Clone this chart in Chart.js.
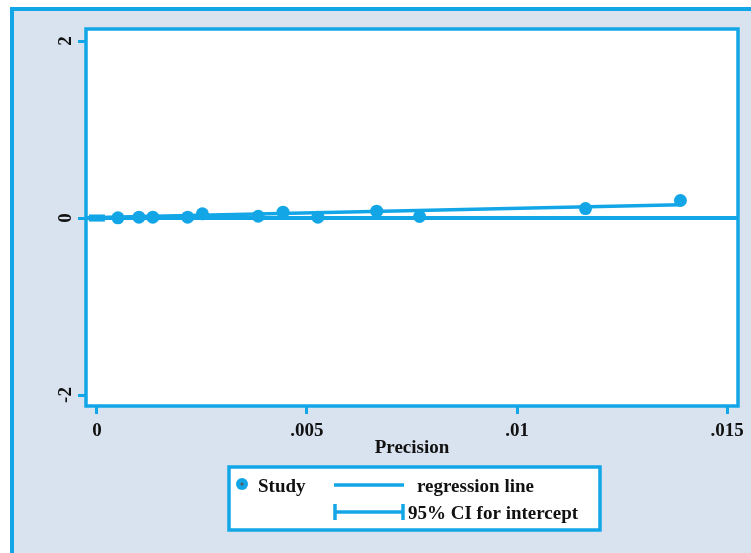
<!DOCTYPE html>
<html lang="en">
<head>
    <meta charset="UTF-8">
    <title>Egger regression - precision plot</title>
    <script src="https://cdn.jsdelivr.net/npm/chart.js"></script>
    <style>
        body { margin: 0; background: #fff; }
        #wrap { width: 751px; height: 553px; }
    </style>
</head>
<body>
    <div id="wrap"><canvas id="myChart" width="751" height="553"></canvas></div>
    <script>
        // values
        const studyPrecision = [0.0005, 0.001, 0.00133, 0.00216, 0.00251, 0.00384, 0.00443, 0.00526, 0.00666, 0.00768, 0.01163, 0.01389];
        const studyEffect    = [0.002, 0.01, 0.01, 0.01, 0.047, 0.02, 0.066, 0.01, 0.077, 0.017, 0.107, 0.198];
        const regressionX = [0, 0.01389];
        const regressionY = [0.005, 0.151];
        const ciIntercept = [-0.012, 0.012];
        const xTicks = [0, 0.005, 0.01, 0.015];
        const xTickLabels = ['0', '.005', '.01', '.015'];
        const yTicks = [-2, 0, 2];
        const yTickLabels = ['-2', '0', '2'];
        const xMin = -0.00026, xMax = 0.01526;
        const yMin = -2.124, yMax = 2.136;

        const blue = '#13a6e6';
        const bg = '#d9e3ef';
        const font = '"Liberation Serif", "DejaVu Serif", serif';

        const decor = {
            id: 'decor',
            beforeDraw(chart) {
                const c = chart.ctx, a = chart.chartArea;
                c.save();
                c.fillStyle = '#fff';
                c.fillRect(0, 0, chart.width, chart.height);
                c.fillStyle = bg;
                c.fillRect(12, 9, chart.width, chart.height);
                c.strokeStyle = blue;
                c.lineWidth = 4;
                c.strokeRect(12, 9, chart.width + 20, chart.height + 20);
                c.fillStyle = '#fff';
                c.fillRect(a.left, a.top, a.right - a.left, a.bottom - a.top);
                c.restore();
            },
            afterDraw(chart) {
                const c = chart.ctx, a = chart.chartArea;
                const ys = chart.scales.y;
                c.save();
                // plot frame
                c.strokeStyle = blue;
                c.lineWidth = 3.5;
                c.strokeRect(a.left, a.top, a.right - a.left, a.bottom - a.top);

                // rotated y tick labels
                c.fillStyle = '#111';
                c.font = 'bold 19px ' + font;
                c.textAlign = 'center';
                c.textBaseline = 'middle';
                yTicks.forEach((v, i) => {
                    c.save();
                    c.translate(66, ys.getPixelForValue(v));
                    c.rotate(-Math.PI / 2);
                    c.fillText(yTickLabels[i], 0, 0);
                    c.restore();
                });

                // axis title
                c.fillText('Precision', (a.left + a.right) / 2, 448);

                // legend
                c.fillStyle = '#fff';
                c.fillRect(229, 467, 371, 63);
                c.strokeStyle = blue;
                c.lineWidth = 3.5;
                c.strokeRect(229, 467, 371, 63);

                c.fillStyle = blue;
                c.beginPath();
                c.arc(242, 484, 6, 0, Math.PI * 2);
                c.fill();
                c.fillStyle = '#555';
                c.beginPath();
                c.arc(242, 484, 1.5, 0, Math.PI * 2);
                c.fill();

                c.lineWidth = 3.5;
                c.beginPath();
                c.moveTo(334, 485); c.lineTo(404, 485);
                c.moveTo(334, 512); c.lineTo(404, 512);
                c.moveTo(335, 504); c.lineTo(335, 520);
                c.moveTo(403, 504); c.lineTo(403, 520);
                c.stroke();

                c.fillStyle = '#111';
                c.textAlign = 'left';
                c.fillText('Study', 258, 487);
                c.fillText('regression line', 417, 487);
                c.fillText('95% CI for intercept', 408, 514);
                c.restore();
            }
        };

        const ctx = document.getElementById('myChart').getContext('2d');
        const myChart = new Chart(ctx, {
            type: 'scatter',
            data: {
                datasets: [
                    {
                        label: 'y = 0',
                        type: 'line',
                        data: [{x: xMin, y: 0}, {x: xMax, y: 0}],
                        borderColor: blue,
                        borderWidth: 4,
                        pointRadius: 0
                    },
                    {
                        label: 'regression line',
                        type: 'line',
                        data: regressionX.map((x, i) => ({x: x, y: regressionY[i]})),
                        borderColor: blue,
                        borderWidth: 3.5,
                        pointRadius: 0
                    },
                    {
                        label: '95% CI for intercept',
                        type: 'line',
                        data: ciIntercept.map(y => ({x: 0, y: y})),
                        borderColor: blue,
                        borderWidth: 4,
                        pointStyle: 'line',
                        pointRadius: 8,
                        pointBorderWidth: 5,
                        pointBorderColor: blue
                    },
                    {
                        label: 'Study',
                        data: studyPrecision.map((x, i) => ({x: x, y: studyEffect[i]})),
                        backgroundColor: blue,
                        borderColor: blue,
                        pointRadius: 6.5,
                        borderWidth: 0
                    },
                    {
                        label: 'centre',
                        data: studyPrecision.map((x, i) => ({x: x, y: studyEffect[i]})),
                        backgroundColor: '#555',
                        pointRadius: 1.3,
                        borderWidth: 0
                    }
                ]
            },
            options: {
                responsive: false,
                animation: false,
                layout: { padding: { top: 29, right: 10, left: 0, bottom: 0 } },
                plugins: { legend: { display: false }, tooltip: { enabled: false } },
                scales: {
                    x: {
                        type: 'linear',
                        min: xMin,
                        max: xMax,
                        afterBuildTicks: s => { s.ticks = xTicks.map(v => ({value: v})); },
                        afterFit: s => { s.height = 147; },
                        grid: { drawOnChartArea: false, drawTicks: true, tickLength: 8, lineWidth: 3, color: blue },
                        border: { display: false },
                        ticks: {
                            maxRotation: 0,
                            padding: 6,
                            color: '#111',
                            font: { family: font, size: 19, weight: 'bold' },
                            callback: (v, i) => xTickLabels[i]
                        }
                    },
                    y: {
                        type: 'linear',
                        min: yMin,
                        max: yMax,
                        afterBuildTicks: s => { s.ticks = yTicks.map(v => ({value: v})); },
                        afterFit: s => { s.width = 86; },
                        grid: { drawOnChartArea: false, drawTicks: true, tickLength: 8, lineWidth: 3, color: blue },
                        border: { display: false },
                        ticks: { display: false }
                    }
                }
            },
            plugins: [decor]
        });
    </script>
</body>
</html>
